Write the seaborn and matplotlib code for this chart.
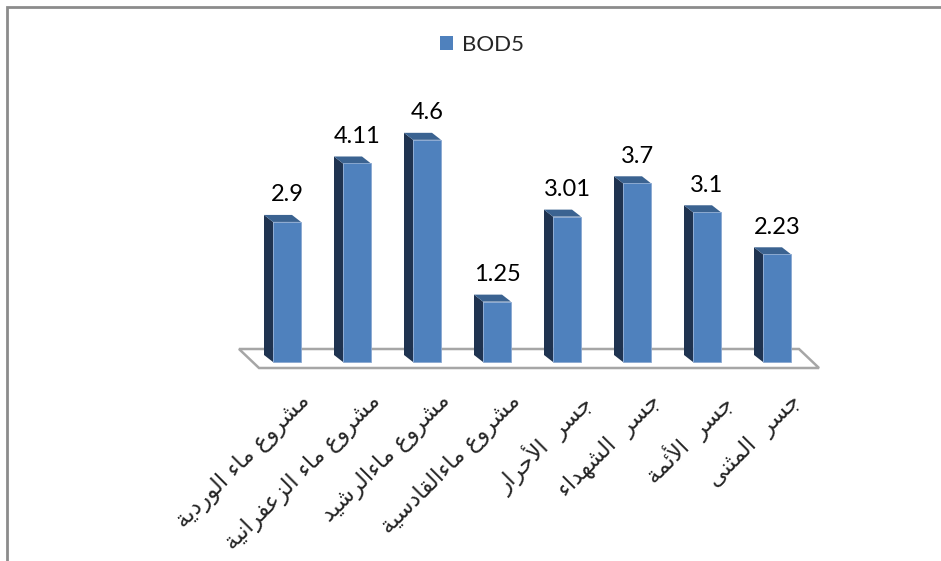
import matplotlib
matplotlib.use("Agg")
import matplotlib.pyplot as plt
import matplotlib.transforms as mtransforms
from matplotlib.patches import Polygon, Rectangle
import seaborn as sns
import pandas as pd

# data
stations = ["مشروع ماء الوردية", "مشروع ماء الزعفرانية", "مشروع ماءالرشيد",
            "مشروع ماءالقادسية", "جسر  الأحرار", "جسر  الشهداء",
            "جسر  الأئمة", "جسر  المثنى"]
bod5 = [2.9, 4.11, 4.6, 1.25, 3.01, 3.7, 3.1, 2.23]
value_labels = ["2.9", "4.11", "4.6", "1.25", "3.01", "3.7", "3.1", "2.23"]
series_name = "BOD5"

FRONT = "#4f81bd"
SIDE = "#1f3350"
TOP = "#3b6391"

# matplotlib has no arabic shaping, so map letters to presentation forms
# base code point, dual joining?
AR_FORMS = {
    "ء": (0xFE80, None), "آ": (0xFE81, False), "أ": (0xFE83, False),
    "ؤ": (0xFE85, False), "إ": (0xFE87, False), "ئ": (0xFE89, True),
    "ا": (0xFE8D, False), "ب": (0xFE8F, True), "ة": (0xFE93, False),
    "ت": (0xFE95, True), "ث": (0xFE99, True), "ج": (0xFE9D, True),
    "ح": (0xFEA1, True), "خ": (0xFEA5, True), "د": (0xFEA9, False),
    "ذ": (0xFEAB, False), "ر": (0xFEAD, False), "ز": (0xFEAF, False),
    "س": (0xFEB1, True), "ش": (0xFEB5, True), "ص": (0xFEB9, True),
    "ض": (0xFEBD, True), "ط": (0xFEC1, True), "ظ": (0xFEC5, True),
    "ع": (0xFEC9, True), "غ": (0xFECD, True), "ف": (0xFED1, True),
    "ق": (0xFED5, True), "ك": (0xFED9, True), "ل": (0xFEDD, True),
    "م": (0xFEE1, True), "ن": (0xFEE5, True), "ه": (0xFEE9, True),
    "و": (0xFEED, False), "ى": (0xFEEF, False), "ي": (0xFEF1, True),
}
LAM_ALEF = {"آ": 0xFEF5, "أ": 0xFEF7, "إ": 0xFEF9, "ا": 0xFEFB}


def shape_arabic(text):
    # merge lam + alef into ligature tokens first
    tokens = []
    i = 0
    while i < len(text):
        c = text[i]
        if c == "ل" and i + 1 < len(text) and text[i + 1] in LAM_ALEF:
            tokens.append(("LA", LAM_ALEF[text[i + 1]]))
            i += 2
        else:
            tokens.append(("CH", c))
            i += 1

    def joins_left(tok):  # can connect to following letter
        if tok[0] == "LA":
            return False
        f = AR_FORMS.get(tok[1])
        return f is not None and f[1] is True

    def is_arabic(tok):
        return tok[0] == "LA" or (tok[1] in AR_FORMS and AR_FORMS[tok[1]][1] is not None)

    out = []
    for k, tok in enumerate(tokens):
        prev_joins = k > 0 and joins_left(tokens[k - 1])
        next_ar = k + 1 < len(tokens) and is_arabic(tokens[k + 1])
        if tok[0] == "LA":
            out.append(chr(tok[1] + (1 if prev_joins else 0)))
            continue
        c = tok[1]
        if c not in AR_FORMS:
            out.append(c)
            continue
        base, dual = AR_FORMS[c]
        if dual is None:
            out.append(chr(base))
        elif dual:
            if prev_joins and next_ar:
                out.append(chr(base + 3))
            elif prev_joins:
                out.append(chr(base + 1))
            elif next_ar:
                out.append(chr(base + 2))
            else:
                out.append(chr(base))
        else:
            out.append(chr(base + 1 if prev_joins else base))
    return "".join(reversed(out))


df = pd.DataFrame({"station": stations, "BOD5": bod5})

sns.set_theme(style="white")
plt.rcParams["font.family"] = ["Lato", "DejaVu Sans"]

fig = plt.figure(figsize=(9.41, 5.61), dpi=100)
W, H = 941.0, 561.0
# axes: bar centres at 287..777 px, baseline at 362 px
ax = fig.add_axes([224 / W, (H - 362) / H, 588 / W, 241.5 / H])

sns.barplot(data=df, x="station", y="BOD5", color=FRONT, width=0.4,
            saturation=1, ax=ax, zorder=3)
ax.set_xlim(-0.9, 7.5)
ax.set_ylim(0, 5)

# depth offset of the fake 3d look (data units)
dx, dy = -9 / 70, 7 / 48.3

bars = ax.patches[:len(bod5)]
for bar in bars:
    x0, w, h = bar.get_x(), bar.get_width(), bar.get_height()
    side = Polygon([(x0, 0), (x0, h), (x0 + dx, h + dy), (x0 + dx, dy)],
                   closed=True, facecolor=SIDE, edgecolor="none", zorder=2.5,
                   clip_on=False)
    top = Polygon([(x0, h), (x0 + w, h), (x0 + w + dx, h + dy), (x0 + dx, h + dy)],
                  closed=True, facecolor=TOP, edgecolor="none", zorder=2.5,
                  clip_on=False)
    ax.add_patch(side)
    ax.add_patch(top)
    bar.set_edgecolor("#8aa8d0")
    bar.set_linewidth(0.6)
    bar.set_clip_on(False)

# floor
fx0 = bars[0].get_x() - 0.2
fx1 = bars[-1].get_x() + bars[-1].get_width() + 0.4
fdx, fdy = -20 / 70, 19 / 48.3
floor = Polygon([(fx0, -6 / 48.3), (fx1, -6 / 48.3), (fx1 + fdx, -6 / 48.3 + fdy),
                 (fx0 + fdx, -6 / 48.3 + fdy)],
                closed=True, facecolor="white", edgecolor="#a6a6a6", lw=1.8,
                zorder=1, clip_on=False)
ax.add_patch(floor)

# value labels
for bar, lab in zip(bars, value_labels):
    cx = bar.get_x() + bar.get_width() / 2
    ax.text(cx, bar.get_height() + dy + 0.2, lab, ha="center", va="bottom",
            fontsize=17, color="black", zorder=5, clip_on=False)

# category labels, rotated 45 deg
ax.set_xticks(range(len(stations)))
ax.set_xticklabels([shape_arabic(s) for s in stations], rotation=45,
                   ha="right", va="top", rotation_mode="anchor", fontsize=16.5,
                   family="DejaVu Sans")
ax.tick_params(axis="x", length=0, pad=20)
offset = mtransforms.ScaledTranslation(12 / 100, 0, fig.dpi_scale_trans)
for lbl in ax.get_xticklabels():
    lbl.set_transform(lbl.get_transform() + offset)

ax.set_yticks([])
ax.set_xlabel("")
ax.set_ylabel("")
for s in ax.spines.values():
    s.set_visible(False)
ax.patch.set_alpha(0)

# legend
handle = Rectangle((0, 0), 1, 1, facecolor=FRONT, edgecolor="none")
fig.legend([handle], [series_name], loc="center", bbox_to_anchor=(482 / W, 1 - 45 / H),
           frameon=False, fontsize=16, handlelength=0.6, handleheight=0.6,
           handletextpad=0.4)

# outer chart frame (left and top edges visible, rest runs off the image)
fig.patches.append(Rectangle((7 / W, -0.05), 1.0, 1.05 - 7 / H,
                             transform=fig.transFigure, facecolor="none",
                             edgecolor="#8c8c8c", lw=2, zorder=10))

fig.savefig("out.png", dpi=100)
